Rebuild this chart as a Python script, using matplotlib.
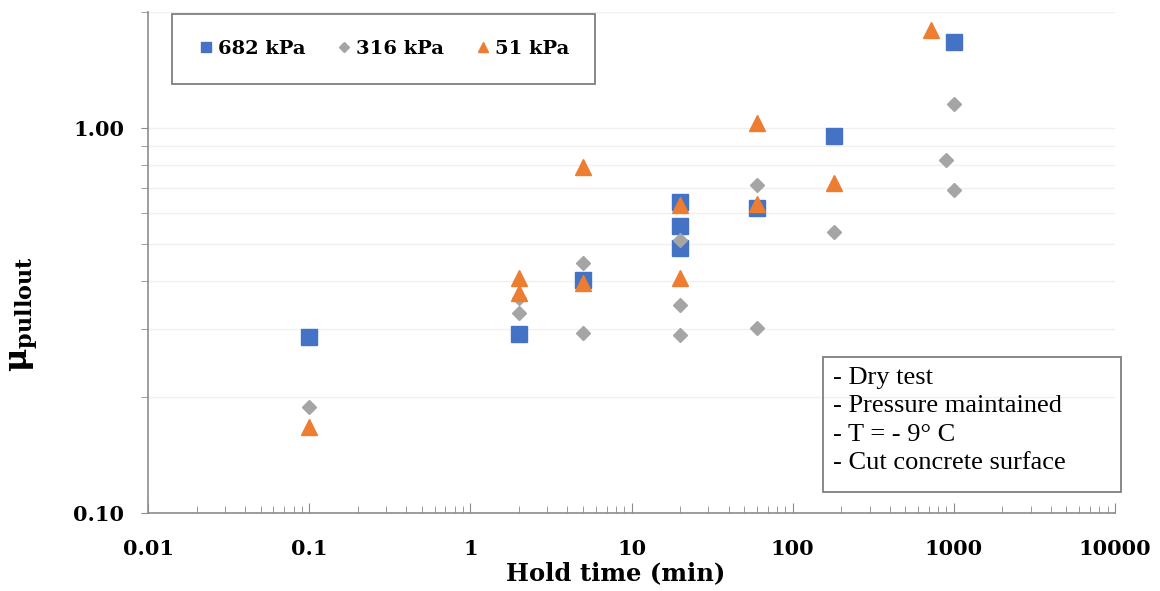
import numpy as np
import matplotlib.pyplot as plt
from matplotlib.patches import Rectangle
from matplotlib.ticker import LogLocator, FixedFormatter, FixedLocator, NullFormatter

plt.rcParams['mathtext.fontset'] = 'custom'
plt.rcParams['mathtext.bf'] = 'DejaVu Serif:bold'

# hold time (min) and pullout friction coefficient for each normal pressure
t_682 = [0.1, 2, 5, 20, 20, 20, 60, 180, 1000]
mu_682 = [0.287, 0.291, 0.403, 0.644, 0.557, 0.487, 0.62, 0.95, 1.675]

t_316 = [0.1, 2, 2, 5, 5, 20, 20, 20, 60, 60, 180, 900, 1000, 1000]
mu_316 = [0.188, 0.330, 0.362, 0.445, 0.293, 0.512, 0.347, 0.29, 0.711, 0.303,
          0.536, 0.826, 1.154, 0.688]

t_51 = [0.1, 2, 2, 5, 5, 20, 20, 60, 60, 180, 720]
mu_51 = [0.167, 0.407, 0.372, 0.395, 0.793, 0.632, 0.407, 1.03, 0.635, 0.718, 1.80]

x_ticks = [0.01, 0.1, 1, 10, 100, 1000, 10000]
x_labels = ['0.01', '0.1', '1', '10', '100', '1000', '10000']
y_ticks = [0.1, 1.0]
y_labels = ['0.10', '1.00']
notes = ['- Dry test', '- Pressure maintained', '- T = - 9° C', '- Cut concrete surface']

W, H = 1160, 591
fig = plt.figure(figsize=(W / 100, H / 100), dpi=100)
ax = fig.add_axes([148 / W, 1 - 513 / H, (1115 - 148) / W, (513 - 12) / H])

ax.plot(t_682, mu_682, ls='none', marker='s', ms=11, color='#4472C4', label='682 kPa')
ax.plot(t_316, mu_316, ls='none', marker='D', ms=7.5, color='#A5A5A5', label='316 kPa')
ax.plot(t_51, mu_51, ls='none', marker='^', ms=12, color='#ED7D31', label='51 kPa')

ax.set_xscale('log')
ax.set_yscale('log')
ax.set_xlim(0.01, 10000)
ax.set_ylim(0.1, 2.0)

ax.xaxis.set_major_locator(FixedLocator(x_ticks))
ax.xaxis.set_major_formatter(FixedFormatter(x_labels))
ax.xaxis.set_minor_locator(LogLocator(base=10, subs=np.arange(2, 10), numticks=20))
ax.xaxis.set_minor_formatter(NullFormatter())
ax.yaxis.set_major_locator(FixedLocator(y_ticks))
ax.yaxis.set_major_formatter(FixedFormatter(y_labels))
ax.yaxis.set_minor_locator(LogLocator(base=10, subs=np.arange(2, 10), numticks=20))
ax.yaxis.set_minor_formatter(NullFormatter())

for s in ['top', 'right']:
    ax.spines[s].set_visible(False)
for s in ['left', 'bottom']:
    ax.spines[s].set_color('#8c8c8c')
    ax.spines[s].set_linewidth(1.2)

ax.tick_params(axis='x', which='both', direction='in', color='#8c8c8c', pad=19)
ax.tick_params(axis='x', which='major', length=7)
ax.tick_params(axis='x', which='minor', length=5)
ax.tick_params(axis='y', which='both', direction='out', color='#8c8c8c', length=5, pad=12)
ax.tick_params(labelsize=15)
for lab in ax.get_xticklabels() + ax.get_yticklabels():
    lab.set_fontfamily('DejaVu Serif')
    lab.set_fontweight('bold')

ax.yaxis.grid(True, which='both', color='#f0f0f0', lw=1)
ax.set_axisbelow(True)

ax.set_xlabel('Hold time (min)', fontsize=17.5, fontweight='bold', family='DejaVu Serif')
ax.xaxis.set_label_coords((616 - 148) / 967, (513 - 561) / 501)
fig.text(24 / W, 1 - 314 / H, 'μ$_{\\mathbf{pullout}}$', rotation=90, fontsize=23,
         fontweight='bold', family='DejaVu Serif', ha='center', va='center')

leg = ax.legend(loc='upper left', bbox_to_anchor=(0.025, 0.997), ncol=3, fancybox=False,
                edgecolor='#7f7f7f', framealpha=1, markerscale=0.65, handlelength=0.8,
                handletextpad=0.2, columnspacing=1.6, borderpad=1.35, borderaxespad=0,
                prop={'family': 'DejaVu Serif', 'weight': 'bold', 'size': 14})
leg.get_frame().set_linewidth(1.3)

fig.patches.append(Rectangle((823 / W, 1 - 492 / H), (1121 - 823) / W, (492 - 357) / H,
                             transform=fig.transFigure, fill=False, ec='#7f7f7f', lw=1.3))
for i, line in enumerate(notes):
    fig.text(833 / W, 1 - (378 + i * 28.3) / H, line, fontsize=19,
             family='Liberation Serif', ha='left', va='center')

fig.savefig('out.png', dpi=100)
